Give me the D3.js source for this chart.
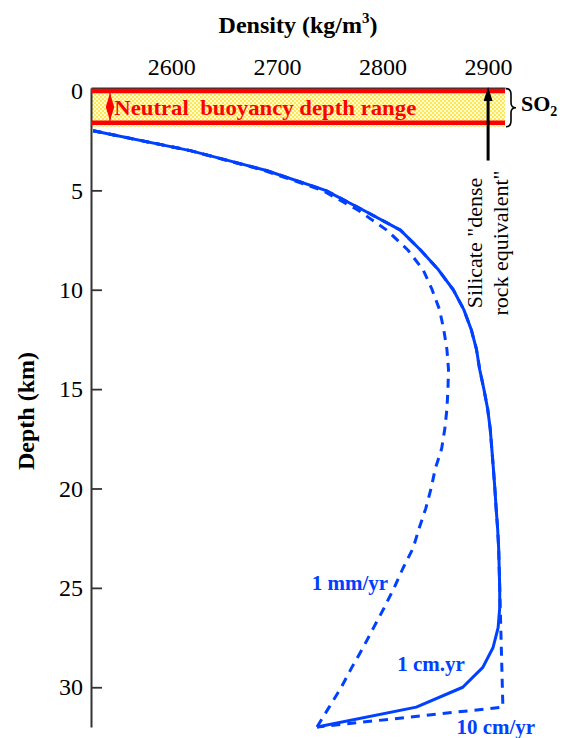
<!DOCTYPE html>
<html>
<head>
<meta charset="utf-8">
<script src="https://cdn.jsdelivr.net/npm/d3@7"></script>
<style>
  body { margin: 0; background: #fff; }
  svg { display: block; font-family: "Liberation Serif", "Times New Roman", serif; }
</style>
</head>
<body>
<svg></svg>
<script>
// depth below surface (km) and density (kg/m3) for each magma supply rate
const depths = [2, 3, 4, 5, 6, 7, 8, 9, 10, 11, 12, 13, 14, 15, 16, 17, 18, 19, 20, 21, 22, 23, 24, 25, 26, 27, 28, 29, 30, 31, 32];
const density1cmYr = [2526, 2618, 2690, 2746, 2782, 2817, 2836, 2853, 2867, 2877, 2884, 2889, 2892, 2896, 2899.6, 2902, 2903.5, 2905, 2906.4, 2907.6, 2909, 2910, 2910.5, 2911, 2911, 2909.5, 2904.7, 2895, 2876, 2832, 2738];
const density1mmYr = [2526, 2618, 2688, 2743, 2777, 2804, 2824, 2838.5, 2847, 2854, 2858, 2861, 2862.5, 2862, 2861, 2859, 2856, 2850, 2846, 2841, 2834.7, 2829, 2819.5, 2811, 2801.6, 2791.6, 2781.7, 2771, 2761, 2749.5, 2738];
const density10cmYr = [2526, 2618, 2690, 2746, 2782, 2817, 2836, 2853, 2867, 2877, 2884, 2889, 2892, 2896, 2899.6, 2902, 2903.5, 2905, 2906.4, 2907.6, 2909, 2910, 2910.5, 2911, 2911.5, 2912, 2912.5, 2913, 2913.5, 2914, 2738];

const densityTicks = [2600, 2700, 2800, 2900];
const depthTicks = [0, 5, 10, 15, 20, 25, 30];
const buoyancyRange = [0, 1.6];
const denseRockEquivalent = 2900;

const blue = "#0040ff";
const red = "#ff0000";
const serif = '"Liberation Serif", "Times New Roman", serif';

const svg = d3.select("svg").attr("width", 565).attr("height", 738);

const x = d3.scaleLinear().domain([2524, 2916]).range([91, 505]);
const y = d3.scaleLinear().domain([-0.15, 32]).range([88, 727]);

// dotted yellow fill for the SO2 band
const defs = svg.append("defs");
const pat = defs.append("pattern")
  .attr("id", "dots")
  .attr("width", 4).attr("height", 4)
  .attr("patternUnits", "userSpaceOnUse");
pat.append("rect").attr("width", 4).attr("height", 4).attr("fill", "#fffbd0");
pat.append("circle").attr("cx", 1).attr("cy", 1).attr("r", 1.1).attr("fill", "#ffe640");
pat.append("circle").attr("cx", 3).attr("cy", 3).attr("r", 1.1).attr("fill", "#ffe640");

svg.append("rect")
  .attr("x", x(2524))
  .attr("y", y(-0.15))
  .attr("width", x(2916) - x(2524))
  .attr("height", y(1.8) - y(-0.15))
  .attr("fill", "url(#dots)");

// axes
const topAxis = svg.append("g")
  .attr("transform", `translate(0,${y(-0.15)})`)
  .call(d3.axisTop(x).tickValues(densityTicks).tickFormat(d3.format("d"))
    .tickSize(-5).tickSizeOuter(0).tickPadding(13));

const leftAxis = svg.append("g")
  .attr("transform", `translate(${x(2524)},0)`)
  .call(d3.axisLeft(y).tickValues(depthTicks).tickFormat(d3.format("d"))
    .tickSize(-11).tickSizeOuter(0).tickPadding(8));

[topAxis, leftAxis].forEach(g => {
  g.attr("font-family", null).attr("font-size", null);
  g.selectAll("path.domain").attr("stroke", "#333").attr("stroke-width", 2);
  g.selectAll(".tick line").attr("stroke", "#333").attr("stroke-width", 1.8);
  g.selectAll(".tick text")
    .style("font-family", serif)
    .style("font-size", "24px")
    .attr("fill", "#000");
});

// neutral buoyancy lines
svg.selectAll("line.buoy")
  .data(buoyancyRange)
  .enter()
  .append("line")
  .attr("class", "buoy")
  .attr("x1", x(2524)).attr("x2", x(2916))
  .attr("y1", d => y(d)).attr("y2", d => y(d))
  .attr("stroke", red)
  .attr("stroke-width", 4.5);

// red double arrow
const ax = x(2542);
svg.append("line")
  .attr("x1", ax).attr("x2", ax)
  .attr("y1", y(buoyancyRange[0]) + 2).attr("y2", y(buoyancyRange[1]) - 2)
  .attr("stroke", red).attr("stroke-width", 1.2);
svg.append("path")
  .attr("d", `M${ax},${y(buoyancyRange[0]) + 2} L${ax + 4.2},${y(0.8)} L${ax},${y(buoyancyRange[1]) - 2} L${ax - 4.2},${y(0.8)} Z`)
  .attr("fill", red);

svg.append("text")
  .attr("x", x(2546))
  .attr("y", y(1.2))
  .attr("font-size", 22)
  .attr("font-weight", "bold")
  .attr("fill", red)
  .attr("textLength", 302)
  .attr("lengthAdjust", "spacingAndGlyphs")
  .style("white-space", "pre")
  .text("Neutral  buoyancy depth range");

// SO2 brace
const bx = x(2916) + 1;
const yt = y(-0.12), yb = y(1.8), ym = (yt + yb) / 2;
svg.append("path")
  .attr("d", `M${bx},${yt} Q${bx + 5},${yt} ${bx + 5},${yt + 6} L${bx + 5},${ym - 5} Q${bx + 5},${ym} ${bx + 10},${ym} Q${bx + 5},${ym} ${bx + 5},${ym + 5} L${bx + 5},${yb - 6} Q${bx + 5},${yb} ${bx},${yb}`)
  .attr("fill", "none")
  .attr("stroke", "#000")
  .attr("stroke-width", 1.6);

const so2 = svg.append("text")
  .attr("x", bx + 15)
  .attr("y", y(1.03))
  .attr("font-size", 22)
  .attr("font-weight", "bold");
so2.append("tspan").text("SO");
so2.append("tspan").attr("font-size", 14).attr("dy", 5).text("2");

// dense rock equivalent arrow
const dx = x(denseRockEquivalent);
svg.append("line")
  .attr("x1", dx).attr("x2", dx)
  .attr("y1", y(3.5)).attr("y2", y(-0.15) + 10)
  .attr("stroke", "#000").attr("stroke-width", 3);
svg.append("path")
  .attr("d", `M${dx},${y(-0.15) - 1} L${dx + 4.5},${y(-0.15) + 13} L${dx - 4.5},${y(-0.15) + 13} Z`)
  .attr("fill", "#000");

const sil = svg.append("text")
  .attr("transform", `translate(${dx - 6},${y(7.65)}) rotate(-90)`)
  .attr("text-anchor", "middle")
  .attr("font-size", 22);
sil.append("tspan").attr("x", 0).attr("dy", 0).text('Silicate "dense');
sil.append("tspan").attr("x", 0).attr("dy", 25.5).text('rock equivalent"');

// density profiles
const line = d3.line()
  .x(d => x(d[1]))
  .y(d => y(d[0]));

const profiles = [
  { values: density1mmYr, dash: "9,7" },
  { values: density10cmYr, dash: "9,7" },
  { values: density1cmYr, dash: null },
];

svg.selectAll("path.profile")
  .data(profiles)
  .enter()
  .append("path")
  .attr("class", "profile")
  .attr("d", p => line(depths.map((d, i) => [d, p.values[i]])))
  .attr("fill", "none")
  .attr("stroke", blue)
  .attr("stroke-width", 3)
  .attr("stroke-linejoin", "round")
  .attr("stroke-dasharray", p => p.dash);

// curve labels
const labels = [
  { text: "1 mm/yr", density: 2733, depth: 25.1 },
  { text: "1 cm.yr", density: 2814, depth: 29.2 },
  { text: "10 cm/yr", density: 2870, depth: 32.35 },
];
svg.selectAll("text.rate")
  .data(labels)
  .enter()
  .append("text")
  .attr("class", "rate")
  .attr("x", d => x(d.density))
  .attr("y", d => y(d.depth))
  .attr("font-size", 21)
  .attr("font-weight", "bold")
  .attr("fill", blue)
  .text(d => d.text);

// axis titles
const title = svg.append("text")
  .attr("x", 298)
  .attr("y", 33)
  .attr("text-anchor", "middle")
  .attr("font-size", 24)
  .attr("font-weight", "bold");
title.append("tspan").text("Density (kg/m");
title.append("tspan").attr("font-size", 15).attr("dy", -10).text("3");
title.append("tspan").attr("dy", 10).text(")");

svg.append("text")
  .attr("transform", `translate(34,${y(16.1)}) rotate(-90)`)
  .attr("text-anchor", "middle")
  .attr("font-size", 24)
  .attr("font-weight", "bold")
  .text("Depth (km)");
</script>
</body>
</html>
